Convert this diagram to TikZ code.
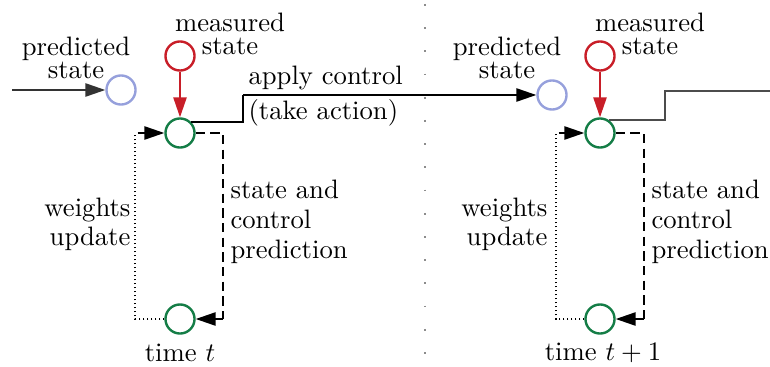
\documentclass[tikz,border=0pt]{standalone}
\usetikzlibrary{arrows.meta}
\definecolor{predblue}{RGB}{150,160,220}
\definecolor{measred}{RGB}{200,30,40}
\definecolor{timegreen}{RGB}{20,125,70}
\begin{document}
\begin{tikzpicture}[x=0.375pt,y=-0.375pt,
  circ/.style={circle,draw,line width=0.9pt,minimum size=10.9pt,inner sep=0pt},
  pred/.style={circ,draw=predblue},
  meas/.style={circ,draw=measred},
  tnode/.style={circ,draw=timegreen},
  lbl/.style={inner sep=0pt,font=\normalsize},
  tip/.style={-{Triangle[length=7.5pt,width=5pt]}},
  wire/.style={line width=0.6pt},
  dashline/.style={wire,dash pattern=on 3.5pt off 2pt},
  dotline/.style={wire,dash pattern=on 0.6pt off 0.9pt},
  sep/.style={black!45,line width=0.6pt,dash pattern=on 0.7pt off 8pt}
]
\useasboundingbox (0,0) rectangle (770,367);
% separator
\coordinate (s1) at (425,4);
\coordinate (s2) at (425,367);
\draw[sep] (s1) -- (s2);

% ---- left (time t)
\node[pred] (b1) at (121,90) {};
\node[meas] (r1) at (180,56) {};
\node[tnode] (g1) at (180,133) {};
\node[tnode] (h1) at (180,319) {};
\coordinate (in1) at (12,90);
\coordinate (k1) at (243,95);
\coordinate (d1) at (223,133);
\coordinate (d1b) at (223,319);
\coordinate (c1) at (135,133);
\coordinate (c1b) at (135,319);

% ---- right (time t+1)
\node[pred] (b2) at (552,95) {};
\node[meas] (r2) at (600,56) {};
\node[tnode] (g2) at (600,133) {};
\node[tnode] (h2) at (600,319) {};
\coordinate (k2) at (665,91);
\coordinate (out2) at (770,91);
\coordinate (d2) at (644,133);
\coordinate (d2b) at (644,319);
\coordinate (c2) at (556,133);
\coordinate (c2b) at (556,319);

% connectors left
\draw[wire,black!80,tip] (in1) -- (b1);
\draw[wire,measred,-{Triangle[length=7.5pt,width=5pt]}] (r1) -- (g1);
\draw[wire] (g1.45) -| (k1);
\draw[wire,tip] (k1) -- (b2);
\draw[dashline] (g1) -- (d1) -- (d1b);
\draw[wire,tip] (d1b) -- (h1);
\draw[dotline] (h1) -- (c1b) -- (c1);
\draw[wire,tip,shorten <=1pt] (c1) -- (g1);

% connectors right
\draw[wire,measred,-{Triangle[length=7.5pt,width=5pt]}] (r2) -- (g2);
\draw[wire,black!70] (g2.55) -| (k2) -- (out2);
\draw[dashline] (g2) -- (d2) -- (d2b);
\draw[wire,tip] (d2b) -- (h2);
\draw[dotline] (h2) -- (c2b) -- (c2);
\draw[wire,tip,shorten <=1pt] (c2) -- (g2);

% labels left
\node[lbl,align=center] (lp1) at (76,58) {predicted\\[-3.2pt]state};
\node[lbl,align=center] (lm1) at (230,34) {measured\\[-3.2pt]state};
\node[lbl,align=left,anchor=west] (la1) at (248,96) {apply control\\[1.2pt](take action)};
\node[lbl,align=right,anchor=east] (lw1) at (131,224) {weights\\[-1.1pt]update};
\node[lbl,align=left,anchor=west] (ls1) at (230,222) {state and\\[-0.8pt]control\\[-0.8pt]prediction};
\node[lbl] (lt1) at (180,353) {time $t$};

% labels right
\node[lbl,align=center] (lp2) at (507,58) {predicted\\[-3.2pt]state};
\node[lbl,align=center] (lm2) at (650,34) {measured\\[-3.2pt]state};
\node[lbl,align=right,anchor=east] (lw2) at (548,224) {weights\\[-1.1pt]update};
\node[lbl,align=left,anchor=west] (ls2) at (651,222) {state and\\[-0.8pt]control\\[-0.8pt]prediction};
\node[lbl] (lt2) at (603,353) {time $t+1$};
\end{tikzpicture}
\end{document}
